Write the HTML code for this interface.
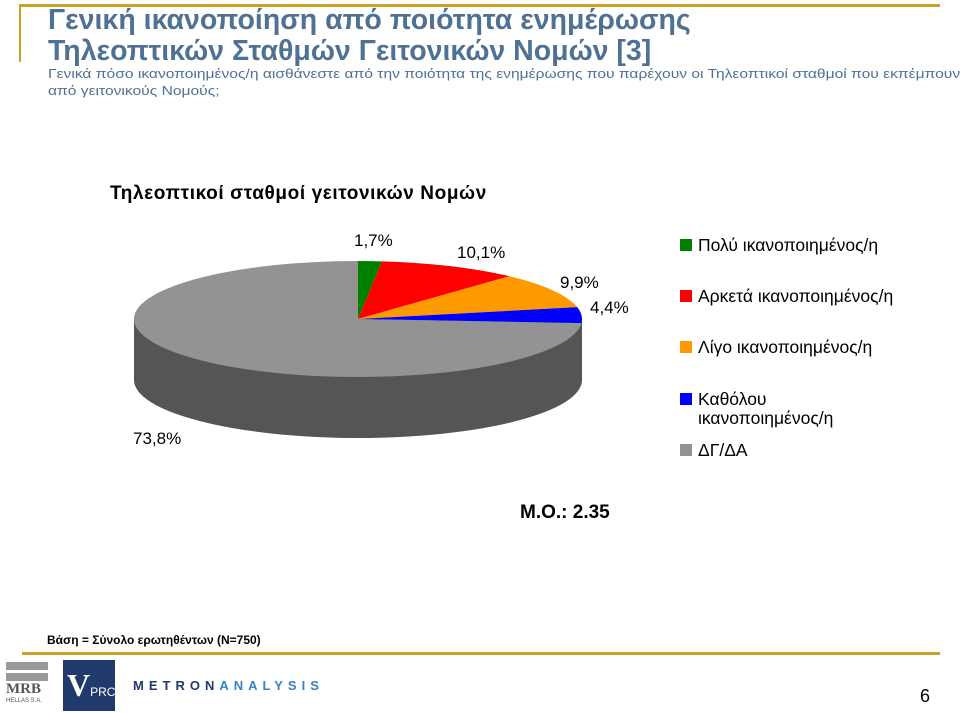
<!DOCTYPE html>
<html><head><meta charset="utf-8"><style>
body{margin:0;width:960px;height:713px;background:#fff;position:relative;overflow:hidden;font-family:"Liberation Sans",sans-serif}
.a{position:absolute;white-space:nowrap}
</style></head><body>
<div class="a" style="left:20px;top:4px;width:920px;height:3px;background:#c9a227"></div>
<div class="a" style="left:19px;top:4px;width:2px;height:58px;background:#c9a227"></div>
<div class="a" style="left:48px;top:5px;font-size:28.5px;font-weight:bold;color:#4f7193;line-height:31px">Γενική ικανοποίηση από ποιότητα ενημέρωσης<br>Τηλεοπτικών Σταθμών Γειτονικών Νομών [3]</div>
<div class="a" style="left:48px;top:65px;font-size:13px;color:#4f7193;line-height:17px;transform:scaleX(1.2);transform-origin:0 0">Γενικά πόσο ικανοποιημένος/η αισθάνεστε από την ποιότητα της ενημέρωσης που παρέχουν οι Τηλεοπτικοί σταθμοί που εκπέμπουν<br>από γειτονικούς Νομούς;</div>
<div class="a" style="left:110px;top:183px;font-size:19px;letter-spacing:0.6px;font-weight:bold;color:#000">Τηλεοπτικοί σταθμοί γειτονικών Νομών</div>
<svg class="a" style="left:0;top:0" width="960" height="713">
<g id="pie"></g>
<g id="labels" font-family="Liberation Sans, sans-serif" font-size="17" fill="#000"></g>
</svg>
<div class="a" style="left:680px;top:236px;font-size:17.5px;color:#000;line-height:19px">
<div class="a" style="left:0;top:0"><span style="display:inline-block;width:12px;height:12px;background:#008000;margin-right:6px"></span>Πολύ ικανοποιημένος/η</div>
<div class="a" style="left:0;top:51px"><span style="display:inline-block;width:12px;height:12px;background:#ff0000;margin-right:6px"></span>Αρκετά ικανοποιημένος/η</div>
<div class="a" style="left:0;top:102px"><span style="display:inline-block;width:12px;height:12px;background:#ff9900;margin-right:6px"></span>Λίγο ικανοποιημένος/η</div>
<div class="a" style="left:0;top:154px"><span style="display:inline-block;width:12px;height:12px;background:#0000ff;margin-right:6px"></span>Καθόλου<br><span style="margin-left:18px">ικανοποιημένος/η</span></div>
<div class="a" style="left:0;top:205px"><span style="display:inline-block;width:12px;height:12px;background:#939393;margin-right:6px"></span>ΔΓ/ΔΑ</div>
</div>
<div class="a" style="left:520px;top:502px;font-size:19px;font-weight:bold">Μ.Ο.: 2.35</div>
<div class="a" style="left:47px;top:633px;font-size:12px;font-weight:bold">Βάση = Σύνολο ερωτηθέντων (Ν=750)</div>
<div class="a" style="left:22px;top:652px;width:918px;height:3px;background:#c9a227"></div>
<div class="a" style="left:6px;top:662px;width:42px;height:46px">
<div style="height:8px;background:#999"></div><div style="height:3px"></div><div style="height:8px;background:#999"></div>
<div style="font:bold 15px 'Liberation Serif',serif;color:#555;line-height:17px">MRB</div><div style="font-size:6px;color:#555">HELLAS S.A.</div></div>
<div class="a" style="left:63px;top:660px;width:52px;height:51px;background:#1f3a6b;color:#fff;font:bold 32px 'Liberation Serif',serif;line-height:51px;padding-left:4px;box-sizing:border-box">V<span style="font:12px 'Liberation Sans',sans-serif">PRC</span></div>
<div class="a" style="left:133px;top:678px;font-size:13px;font-weight:bold;letter-spacing:5px;color:#1f3a6b">METRON<span style="color:#3a7fc4">ANALYSIS</span></div>
<div class="a" style="left:920px;top:686px;font-size:18px">6</div>
<script>
const categories=["Πολύ","Αρκετά","Λίγο","Καθόλου","ΔΓ/ΔΑ"];
const values=[1.7,10.1,9.9,4.4,73.8];
const valueLabels=["1,7%","10,1%","9,9%","4,4%","73,8%"];
const colors=["#008000","#ff0000","#ff9900","#0000ff","#939393"];
const cx=358,cy=319,rx=224,ry=58,depth=61;
const NS="http://www.w3.org/2000/svg";
const g=document.getElementById('pie'),lg=document.getElementById('labels');
function pt(t){return [cx+rx*Math.sin(t),cy-ry*Math.cos(t)];}
const side=document.createElementNS(NS,'path');
side.setAttribute('d',`M${cx-rx},${cy} L${cx-rx},${cy+depth} A${rx},${ry} 0 0 0 ${cx+rx},${cy+depth} L${cx+rx},${cy} Z`);
side.setAttribute('fill','#555');


g.appendChild(side);
const total=values.reduce((a,b)=>a+b,0);
let acc=0;
const labelPos=[[354,246],[457,258],[560,288],[590,313],[133,444]];
values.forEach((v,i)=>{
 const t0=acc/total*2*Math.PI; acc+=v; const t1=acc/total*2*Math.PI;
 const p0=pt(t0),p1=pt(t1);
 const large=(t1-t0)>Math.PI?1:0;
 const p=document.createElementNS(NS,'path');
 p.setAttribute('d',`M${cx},${cy} L${p0[0]},${p0[1]} A${rx},${ry} 0 ${large} 1 ${p1[0]},${p1[1]} Z`);
 p.setAttribute('fill',colors[i]);
 
 
 g.appendChild(p);
 const tx=document.createElementNS(NS,'text');
 tx.setAttribute('x',labelPos[i][0]);tx.setAttribute('y',labelPos[i][1]);
 tx.textContent=valueLabels[i];
 
 
 lg.appendChild(tx);
});
</script>
</body></html>
